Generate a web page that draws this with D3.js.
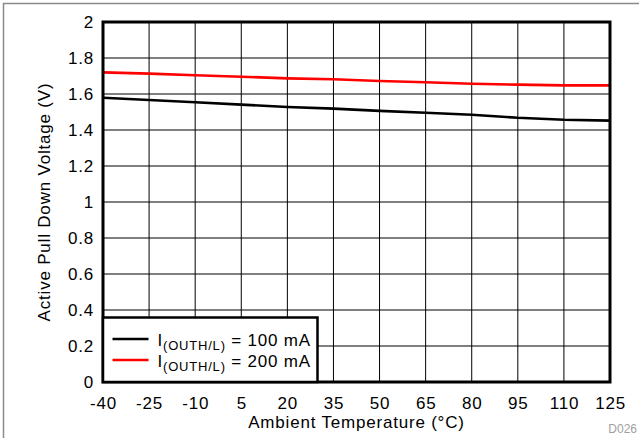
<!DOCTYPE html>
<html><head><meta charset="utf-8">
<script src="https://cdn.jsdelivr.net/npm/d3@7"></script>
<style>body{margin:0;background:#fff}svg{display:block;font-family:"Liberation Sans",Arial,sans-serif}</style>
</head><body>
<script>
const temps = [-40, -25, -10, 5, 20, 35, 50, 65, 80, 95, 110, 125];
const v100 = [1.579, 1.567, 1.554, 1.541, 1.528, 1.519, 1.506, 1.496, 1.485, 1.468, 1.457, 1.452];
const v200 = [1.720, 1.713, 1.704, 1.696, 1.687, 1.682, 1.672, 1.665, 1.657, 1.652, 1.648, 1.648];
const yTicks = [0, 0.2, 0.4, 0.6, 0.8, 1, 1.2, 1.4, 1.6, 1.8, 2];
const seriesNames = ["100 mA", "200 mA"];
const seriesColors = ["#000000", "#ff0000"];

const W = 639, H = 438;
const FS = 17, LS = 0.8;
const m = {left: 103, top: 22, right: 610, bottom: 382};
const svg = d3.select("body").append("svg").attr("width", W).attr("height", H);

// outer frame
svg.append("rect").attr("x", 3.5).attr("y", 3.5).attr("width", 800).attr("height", 800)
  .attr("fill", "none").attr("stroke", "#8a8a8a").attr("stroke-width", 1.5);

const x = d3.scaleLinear().domain([-40, 125]).range([m.left, m.right]);
const y = d3.scaleLinear().domain([0, 2]).range([m.bottom, m.top]);

// grid
const g = svg.append("g");
g.selectAll(".vg").data(temps).enter().append("line")
  .attr("x1", d => x(d)).attr("x2", d => x(d)).attr("y1", m.top).attr("y2", m.bottom)
  .attr("stroke", "#000").attr("stroke-width", 1);
g.selectAll(".hg").data(yTicks).enter().append("line")
  .attr("y1", d => y(d)).attr("y2", d => y(d)).attr("x1", m.left).attr("x2", m.right)
  .attr("stroke", "#000").attr("stroke-width", 1);

// axes (labels only)
const yAxis = d3.axisLeft(y).tickValues(yTicks).tickSize(0).tickPadding(9).tickFormat(d => String(d));
const ya = svg.append("g").attr("transform", `translate(${m.left},0)`).call(yAxis);
ya.select(".domain").remove();
ya.selectAll("text").attr("font-size", FS).attr("letter-spacing", LS).attr("fill", "#000")
  .attr("font-family", "Liberation Sans, Arial, sans-serif");

const xAxis = d3.axisBottom(x).tickValues(temps).tickSize(0).tickPadding(15).tickFormat(d => String(d));
const xa = svg.append("g").attr("transform", `translate(0,${m.bottom})`).call(xAxis);
xa.select(".domain").remove();
xa.selectAll("text").attr("font-size", FS).attr("letter-spacing", LS).attr("fill", "#000")
  .attr("font-family", "Liberation Sans, Arial, sans-serif");

// lines
const line = d3.line().x((d, i) => x(temps[i])).y(d => y(d));
[v100, v200].forEach((vals, k) => {
  svg.append("path").datum(vals).attr("d", line).attr("fill", "none")
    .attr("stroke", seriesColors[k]).attr("stroke-width", 2.6);
});

// plot border
svg.append("rect").attr("x", m.left).attr("y", m.top).attr("width", m.right - m.left).attr("height", m.bottom - m.top)
  .attr("fill", "none").attr("stroke", "#000").attr("stroke-width", 3);

// legend
const lg = svg.append("g");
lg.append("rect").attr("x", m.left).attr("y", 317.5).attr("width", 214.5).attr("height", m.bottom - 317.5)
  .attr("fill", "#fff").attr("stroke", "#000").attr("stroke-width", 2.5);
seriesNames.forEach((nm, k) => {
  const ly = 339 + k * 21;
  lg.append("line").attr("x1", 112.5).attr("x2", 148.5).attr("y1", ly).attr("y2", ly)
    .attr("stroke", seriesColors[k]).attr("stroke-width", 2.6);
  const t = lg.append("text").attr("x", 157.5).attr("y", ly + 7).attr("font-size", FS)
    .attr("letter-spacing", LS).attr("fill", "#000");
  t.append("tspan").text("I");
  t.append("tspan").attr("font-size", 13).attr("dy", 4).text("(OUTH/L)");
  t.append("tspan").attr("dy", -4).text(" = " + nm);
});

// titles
svg.append("text").attr("x", (m.left + m.right) / 2).attr("y", 427.5).attr("text-anchor", "middle")
  .attr("font-size", FS).attr("letter-spacing", LS).attr("fill", "#000").text("Ambient Temperature (°C)");
svg.append("text").attr("transform", `translate(50,${(m.top + m.bottom) / 2}) rotate(-90)`)
  .attr("text-anchor", "middle").attr("font-size", FS).attr("letter-spacing", LS).attr("fill", "#000")
  .text("Active Pull Down Voltage (V)");
svg.append("text").attr("x", 637).attr("y", 433).attr("text-anchor", "end")
  .attr("font-size", 12).attr("fill", "#a0a0a0").text("D026");
</script>
</body></html>
